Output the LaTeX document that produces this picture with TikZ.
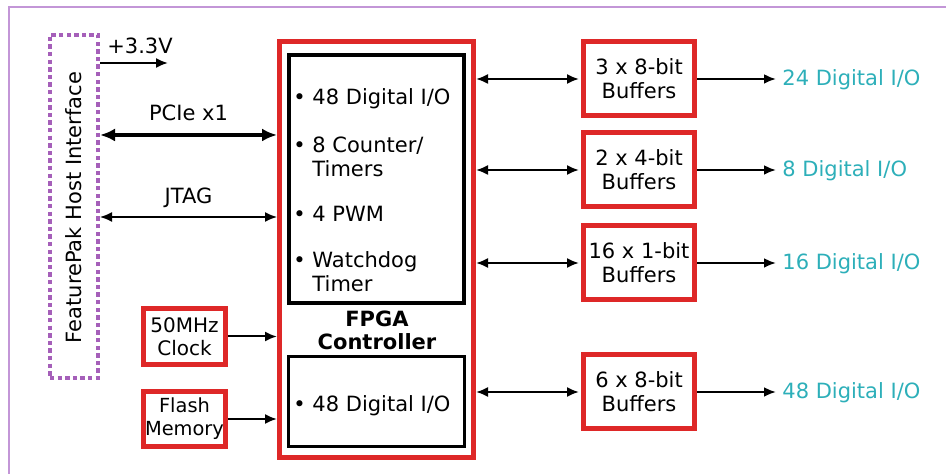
\documentclass[tikz,border=0pt]{standalone}
\usepackage{fontspec}
\setmainfont{DejaVu Sans}
\usetikzlibrary{arrows.meta,positioning}
\definecolor{boxred}{RGB}{222,40,40}
\definecolor{hostpurple}{RGB}{165,95,185}
\definecolor{framepurple}{RGB}{195,150,215}
\definecolor{ioteal}{RGB}{45,175,185}
\newcommand{\redwidth}{2.5pt}
\newcommand{\blackwidth}{1.7pt}
\newcommand{\bufw}{55.5pt}
\newcommand{\bufh}{37pt}

\begin{document}
\begin{tikzpicture}[x=0.5pt,y=-0.5pt,>={Latex[length=6pt,width=5pt]},
  font=\fontsize{10.5}{12}\selectfont,
  redbox/.style={draw=boxred,line width=\redwidth,fill=white,inner sep=0pt,align=center},
  blackbox/.style={draw=black,line width=\blackwidth},
  item/.style={anchor=west,align=left,inner sep=0pt},
  iolabel/.style={anchor=west,text=ioteal,inner sep=3pt}]
\useasboundingbox (0,0) rectangle (946,474);
% frame
\draw[framepurple,line width=1pt] (9,474) -- (9,7) -- (946,7);
% host interface
\node[draw=hostpurple,line width=2pt,dash pattern=on 2.2pt off 1.6pt,
  minimum width=24pt,minimum height=171.5pt] (host) at (74,206.5) {};
\node[rotate=90] (hostlabel) at (74,207.5) {FeaturePak Host Interface};
% fpga
\node[redbox,minimum width=97pt,minimum height=208pt] (fpga) at (376.5,249.5) {};
\node[blackbox,minimum width=87.5pt,minimum height=124pt] (core) at (376.5,179) {};
\node[blackbox,minimum width=88pt,minimum height=45pt] (gpio) at (376.5,401.5) {};
\node[item] (io1) at (293,99) {\textbullet\ 48 Digital I/O};
\node[item] (ctr) at (293,157) {\textbullet\ 8 Counter/\\\phantom{\textbullet\ }Timers};
\node[item] (pwm) at (293,214) {\textbullet\ 4 PWM};
\node[item] (wdt) at (293,272) {\textbullet\ Watchdog\\\phantom{\textbullet\ }Timer};
\node[item] (io2) at (293,406) {\textbullet\ 48 Digital I/O};
\node[align=center,font=\fontsize{10.5}{11.5}\selectfont\bfseries] (fpgalabel) at (377,330) {FPGA\\Controller};
% clock and flash
\node[redbox,minimum width=41pt,minimum height=28pt,font=\fontsize{10}{11.5}\selectfont] (clock) at (184.5,336.5) {50MHz\\Clock};
\node[redbox,minimum width=41pt,minimum height=27.5pt,font=\fontsize{9.7}{11.5}\selectfont] (flash) at (184.5,419) {Flash\\Memory};
% buffers
\node[redbox,minimum width=\bufw,minimum height=\bufh] (buf1) at (639,79) {3 x 8-bit\\Buffers};
\node[redbox,minimum width=\bufw,minimum height=\bufh] (buf2) at (639,170) {2 x 4-bit\\Buffers};
\node[redbox,minimum width=\bufw,minimum height=\bufh] (buf3) at (639,263) {16 x 1-bit\\Buffers};
\node[redbox,minimum width=\bufw,minimum height=\bufh] (buf4) at (639,392) {6 x 8-bit\\Buffers};
\node[iolabel] (out1) at (776,80) {24 Digital I/O};
\node[iolabel] (out2) at (776,171) {8 Digital I/O};
\node[iolabel] (out3) at (776,264) {16 Digital I/O};
\node[iolabel] (out4) at (776,393) {48 Digital I/O};
% host side
\coordinate (vcc) at (168,63);
\draw[->,line width=1pt] (host.east |- vcc) -- node[above=1pt,xshift=3pt] {+3.3V} (vcc);
\draw[<->,line width=1.6pt,>={Latex[length=7.5pt,width=6.5pt]}] (host.east |- 0,135) -- node[above=3pt] {PCIe x1} (fpga.west |- 0,135);
\draw[<->,line width=0.8pt] (host.east |- 0,217) -- node[above=1pt] {JTAG} (fpga.west |- 0,217);
\draw[->,line width=1pt] (clock.east) -- (clock.east -| fpga.west);
\draw[->,line width=1pt] (flash.east) -- (flash.east -| fpga.west);
% buffer side
\draw[<->,line width=1pt,shorten >=1pt] (fpga.east |- buf1) -- (buf1.west);
\draw[<->,line width=1pt,shorten >=1pt] (fpga.east |- buf2) -- (buf2.west);
\draw[<->,line width=1pt,shorten >=1pt] (fpga.east |- buf3) -- (buf3.west);
\draw[<->,line width=1pt,shorten >=1pt] (fpga.east |- buf4) -- (buf4.west);
\draw[->,line width=1.2pt] (buf1.east) -- (buf1.east -| out1.west);
\draw[->,line width=1.2pt] (buf2.east) -- (buf2.east -| out2.west);
\draw[->,line width=1.2pt] (buf3.east) -- (buf3.east -| out3.west);
\draw[->,line width=1.2pt] (buf4.east) -- (buf4.east -| out4.west);
\end{tikzpicture}
\end{document}
